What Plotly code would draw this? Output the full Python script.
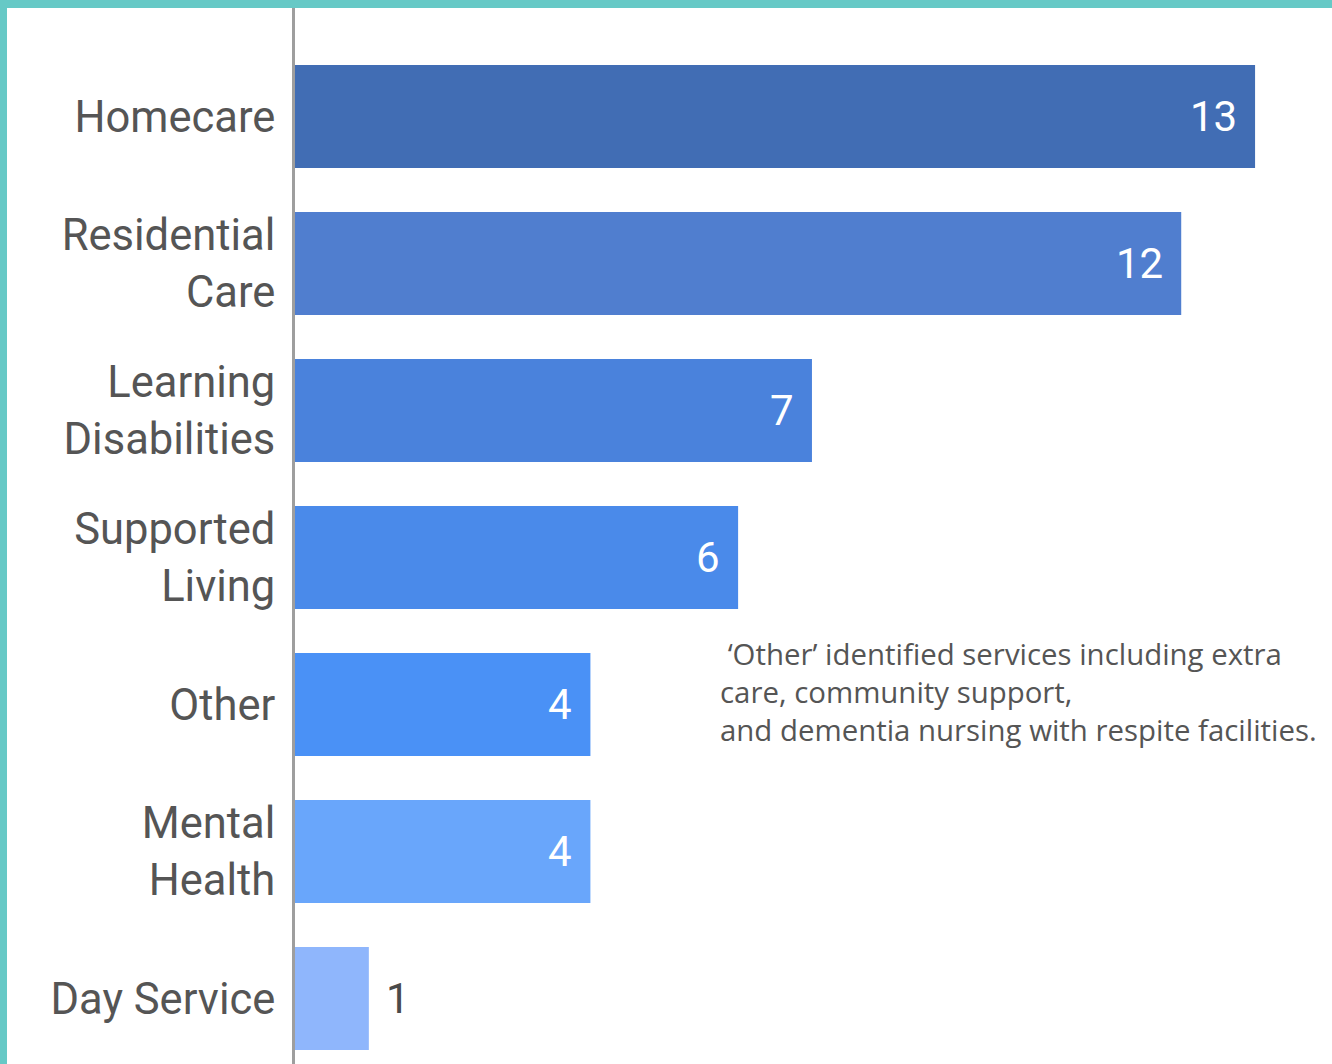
import plotly.graph_objects as go

categories = ["Homecare", "Residential<br>Care", "Learning<br>Disabilities", "Supported<br>Living",
              "Other", "Mental<br>Health", "Day Service"]
values = [13, 12, 7, 6, 4, 4, 1]
bar_colors = ["#416DB4", "#507ECF", "#4A82DC", "#4A8AEA", "#4A91F6", "#69A6FB", "#8FB6FC"]
note_text = " ‘Other’ identified services including extra<br>care, community support,<br>and dementia nursing with respite facilities."

W, H = 1332, 1064
L, R, T, B = 295, 40, 8, 0
xmax = 13.5
pw = W - L - R
ph = H - T - B

fig = go.Figure(go.Bar(
    y=categories, x=values, orientation="h",
    marker=dict(color=bar_colors, line=dict(width=0)),
    hoverinfo="skip",
))

annotations = []
for c, v in zip(categories, values):
    if v >= 2:
        annotations.append(dict(x=v, y=c, xref="x", yref="y", text=str(v), showarrow=False,
                                xanchor="right", xshift=-16,
                                font=dict(family="Roboto", size=42, color="white")))
    else:
        annotations.append(dict(x=v, y=c, xref="x", yref="y", text=str(v), showarrow=False,
                                xanchor="left", xshift=15,
                                font=dict(family="Roboto", size=42, color="#4a4a4a")))

annotations.append(dict(x=(718 - L) / pw * xmax, y="Other", xref="x", yref="y", text=note_text,
                        showarrow=False, xanchor="left", yanchor="middle", align="left", yshift=12,
                        font=dict(family="Open Sans", size=29.4, color="#555555")))

teal = "#66C9C6"
shapes = [
    dict(type="rect", xref="paper", yref="paper",
         x0=(0 - L) / pw, x1=(W - L) / pw, y0=1 + 0 / ph, y1=1 + T / ph,
         fillcolor=teal, line=dict(width=0), layer="above"),
    dict(type="rect", xref="paper", yref="paper",
         x0=(0 - L) / pw, x1=(7 - L) / pw, y0=-B / ph, y1=1 + T / ph,
         fillcolor=teal, line=dict(width=0), layer="above"),
]

fig.update_layout(
    width=W, height=H,
    margin=dict(l=L, r=R, t=T, b=B),
    paper_bgcolor="white", plot_bgcolor="white",
    bargap=0.3,
    showlegend=False,
    annotations=annotations,
    shapes=shapes,
    xaxis=dict(range=[0, xmax], visible=False, fixedrange=True),
    yaxis=dict(
        type="category",
        range=[6.446, -0.738],
        showline=True, linecolor="#9E9E9E", linewidth=3,
        showgrid=False, zeroline=False,
        ticks="", ticklabelstandoff=8,
        tickfont=dict(family="Roboto", size=43.5, color="#555555"),
        fixedrange=True,
    ),
)

fig.write_html("out.html")
